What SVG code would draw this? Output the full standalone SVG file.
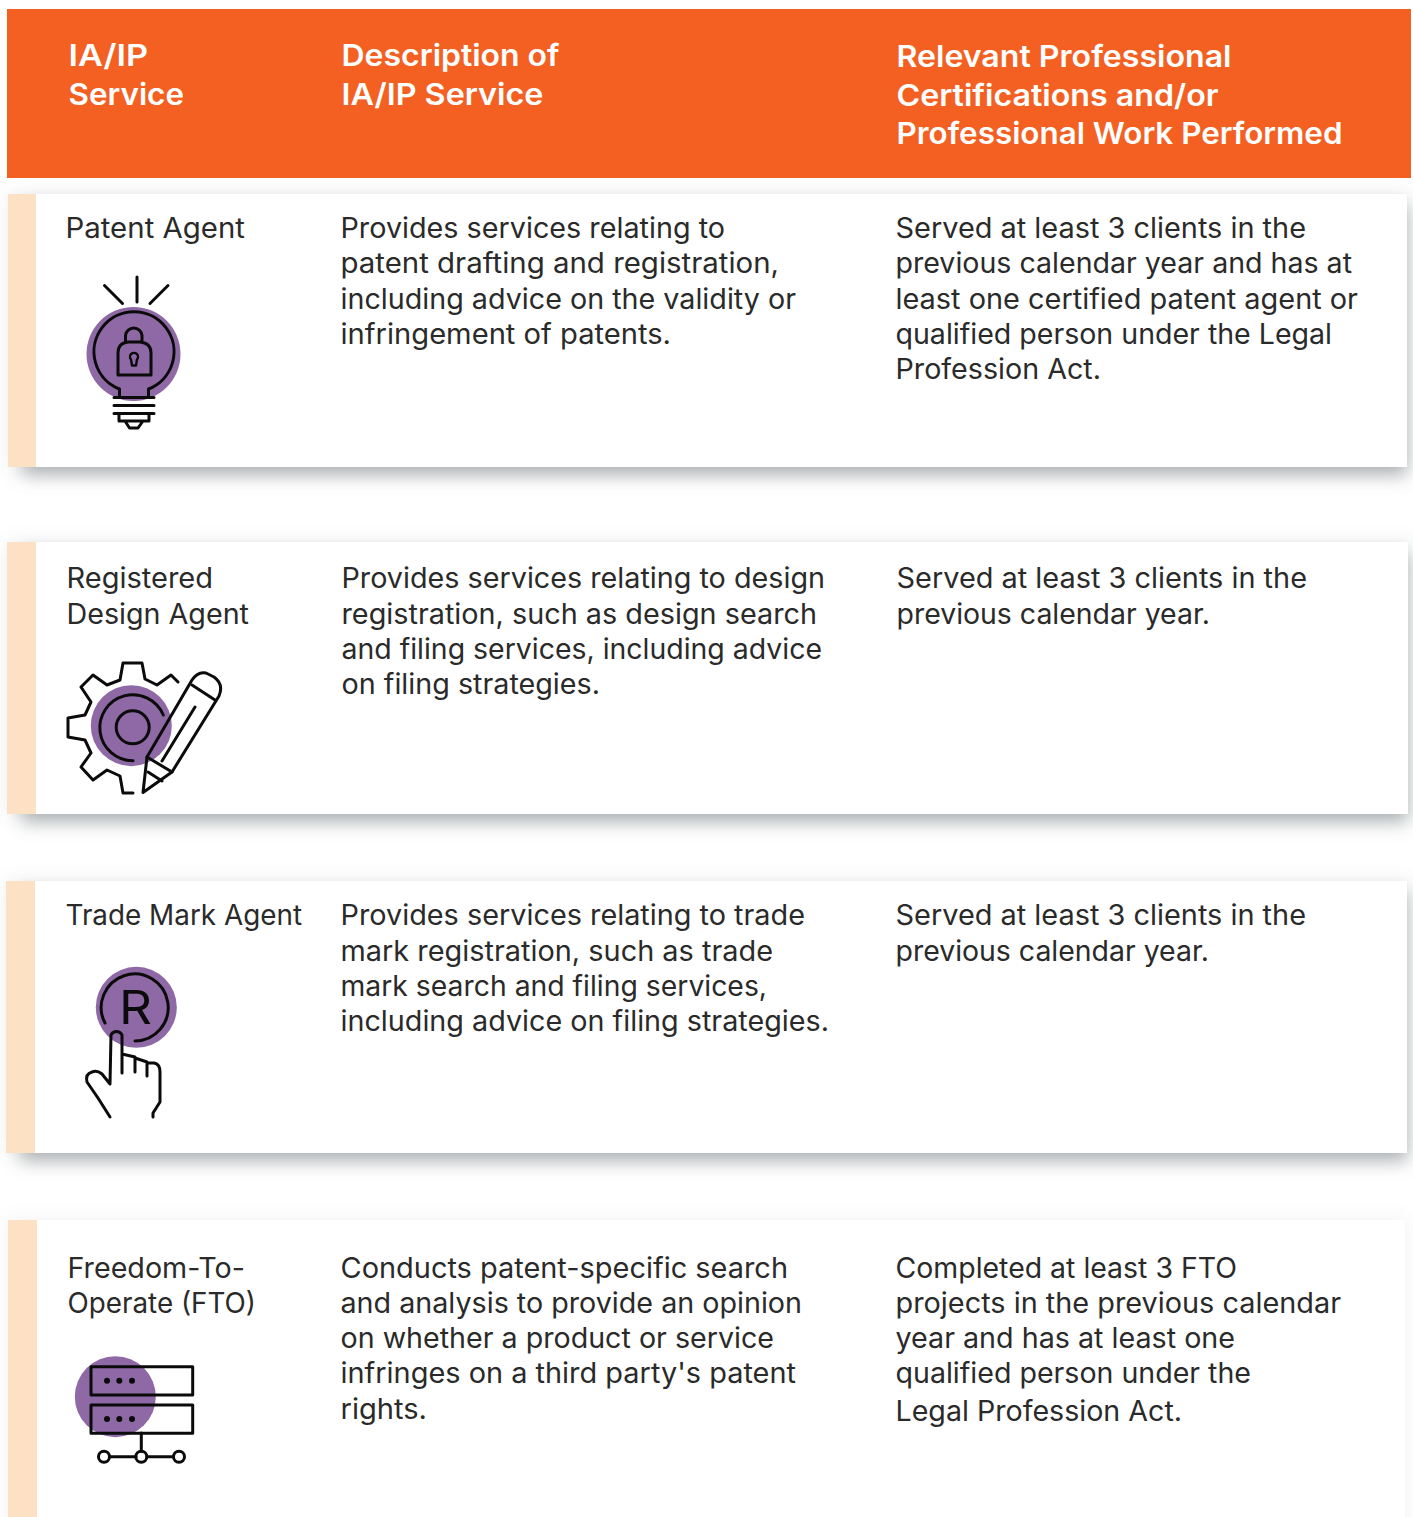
<svg xmlns="http://www.w3.org/2000/svg" width="1413" height="1517" viewBox="0 0 1413 1517">
<style>
text{font-family:Inter,"Liberation Sans",sans-serif;font-size:28px;fill:#2a2a2a;letter-spacing:0}
.h{font-size:30px;font-weight:600;fill:#fff}
.i{fill:none;stroke:#0b0b0b;stroke-width:3;stroke-linecap:round;stroke-linejoin:round}
.t{stroke-width:2.4}
.p{fill:#8f69a5}
.pe{fill:#fde1c4}
.s{fill:#6e747a;fill-opacity:.55;filter:url(#b)}
.f{fill:#6e747a;fill-opacity:.1;filter:url(#b)}
.c{fill:#fff}
.e{fill:#0b0b0b;font-size:46px}
.d{fill:#0b0b0b}
</style>
<defs><filter id="b" x="-5%" y="-30%" width="110%" height="160%"><feGaussianBlur stdDeviation="9"/></filter></defs>
<rect width="1413" height="1517" fill="#fff"/>
<g id="header">
<rect x="7" y="9" width="1404" height="169" fill="#f45f22"/>
<text class="h" x="68.500" y="66" textLength="79.500" lengthAdjust="spacingAndGlyphs">IA/IP</text>
<text class="h" x="68.500" y="105" textLength="115.500" lengthAdjust="spacingAndGlyphs">Service</text>
<text class="h" x="341.500" y="66" textLength="218" lengthAdjust="spacingAndGlyphs">Description of</text>
<text class="h" x="341.500" y="105" textLength="202" lengthAdjust="spacingAndGlyphs">IA/IP Service</text>
<text class="h" x="896.500" y="67" textLength="335" lengthAdjust="spacingAndGlyphs">Relevant Professional</text>
<text class="h" x="896.500" y="106" textLength="322" lengthAdjust="spacingAndGlyphs">Certifications and/or</text>
<text class="h" x="896.500" y="144" textLength="446" lengthAdjust="spacingAndGlyphs">Professional Work Performed</text>
</g>
<g id="row-patent-agent">
<rect class="f" x="8" y="194" width="1399" height="273"/>
<rect class="s" x="22" y="204" width="1385" height="271"/>
<rect class="c" x="8" y="194" width="1399" height="273"/>
<rect class="pe" x="8" y="194" width="28" height="273"/>
<text x="65.500" y="238" textLength="179.500" lengthAdjust="spacingAndGlyphs">Patent Agent</text>
<text x="340.500" y="238" textLength="384.500" lengthAdjust="spacingAndGlyphs">Provides services relating to</text>
<text x="340.500" y="273" textLength="438.500" lengthAdjust="spacingAndGlyphs">patent drafting and registration,</text>
<text x="340.500" y="309" textLength="455.500" lengthAdjust="spacingAndGlyphs">including advice on the validity or</text>
<text x="340.500" y="344" textLength="330.500" lengthAdjust="spacingAndGlyphs">infringement of patents.</text>
<text x="895.500" y="238" textLength="410.500" lengthAdjust="spacingAndGlyphs">Served at least 3 clients in the</text>
<text x="895.500" y="273" textLength="456.500" lengthAdjust="spacingAndGlyphs">previous calendar year and has at</text>
<text x="895.500" y="309" textLength="462.500" lengthAdjust="spacingAndGlyphs">least one certified patent agent or</text>
<text x="895.500" y="344" textLength="436.500" lengthAdjust="spacingAndGlyphs">qualified person under the Legal</text>
<text x="895.500" y="379" textLength="205.500" lengthAdjust="spacingAndGlyphs">Profession Act.</text>
<g id="icon-bulb">
<circle class="p" cx="133.500" cy="354" r="47"/>
<path class="i" d="M137 277V302M104.500 285.500L122.500 303.500M168 285.500L150 303.500"/>
<path class="i" d="M119.500 397V389A40 40 0 1 1 148.500 389V397M114 397.500H154M114 405.500H154M114 413.500H154M119 414V421H149V414M125 421L129.500 428H138L143 421"/>
<path class="i" d="M118 375V353Q118 343 128 342H140Q151 343 151 353V375ZM125.500 342V335.500A8.300 8.300 0 0 1 142 335.500V342"/>
<path class="i t" d="M131 359.500A4 4 0 1 1 137 359.500L136 365.500H132Z"/>
</g>
</g>
<g id="row-registered-design-agent">
<rect class="f" x="7" y="542" width="1401" height="272"/>
<rect class="s" x="21" y="552" width="1387" height="270"/>
<rect class="c" x="7" y="542" width="1401" height="272"/>
<rect class="pe" x="7" y="542" width="29" height="272"/>
<text x="66.500" y="588" textLength="146.500" lengthAdjust="spacingAndGlyphs">Registered</text>
<text x="66.500" y="624" textLength="182.500" lengthAdjust="spacingAndGlyphs">Design Agent</text>
<text x="341.500" y="588" textLength="483.500" lengthAdjust="spacingAndGlyphs">Provides services relating to design</text>
<text x="341.500" y="624" textLength="475.500" lengthAdjust="spacingAndGlyphs">registration, such as design search</text>
<text x="341.500" y="659" textLength="480.500" lengthAdjust="spacingAndGlyphs">and filing services, including advice</text>
<text x="341.500" y="694" textLength="258.500" lengthAdjust="spacingAndGlyphs">on filing strategies.</text>
<text x="896.500" y="588" textLength="410.500" lengthAdjust="spacingAndGlyphs">Served at least 3 clients in the</text>
<text x="896.500" y="624" textLength="313.500" lengthAdjust="spacingAndGlyphs">previous calendar year.</text>
<g id="icon-gear">
<circle class="p" cx="131.300" cy="725.700" r="40.500"/>
<path class="i" d="M178 682L171 675L157 685L145 679L142 663H123L120 680L107 685L93 675L81 687L91 702L85 715L68 718V737L85 740L91 753L81 767L93 780L107 770L120 776L123 793H133"/>
<circle class="i" cx="132.700" cy="727.300" r="16.500"/>
<path class="i" d="M133 760.700A33 33 0 1 1 163.300 715"/>
<path class="i" d="M143 792.500L147 757L192 680Q198 671 206 673L214 677Q224 684 219 696L172 772Z"/>
<path class="i" d="M192 685L215 700M147 757L172 772M195 707L162 761M148 772L162 781"/>
</g>
</g>
<g id="row-trade-mark-agent">
<rect class="f" x="6" y="881" width="1401" height="272"/>
<rect class="s" x="20" y="891" width="1387" height="270"/>
<rect class="c" x="6" y="881" width="1401" height="272"/>
<rect class="pe" x="6" y="881" width="29" height="272"/>
<text x="65.500" y="925" textLength="236.500" lengthAdjust="spacingAndGlyphs">Trade Mark Agent</text>
<text x="340.500" y="925" textLength="464.500" lengthAdjust="spacingAndGlyphs">Provides services relating to trade</text>
<text x="340.500" y="961" textLength="432.500" lengthAdjust="spacingAndGlyphs">mark registration, such as trade</text>
<text x="340.500" y="996" textLength="426.500" lengthAdjust="spacingAndGlyphs">mark search and filing services,</text>
<text x="340.500" y="1031" textLength="488.500" lengthAdjust="spacingAndGlyphs">including advice on filing strategies.</text>
<text x="895.500" y="925" textLength="410.500" lengthAdjust="spacingAndGlyphs">Served at least 3 clients in the</text>
<text x="895.500" y="961" textLength="313.500" lengthAdjust="spacingAndGlyphs">previous calendar year.</text>
<g id="icon-trademark">
<circle class="p" cx="136.300" cy="1007.300" r="40.500"/>
<path class="i" d="M105 1023A33.500 33.500 0 1 1 135 1041"/>
<text class="e" x="119" y="1024" style="font-size:47px" textLength="33" lengthAdjust="spacingAndGlyphs">R</text>
<path class="i" d="M110 1117L98 1098L87 1082Q85 1074 92 1072Q97 1070 102 1074L110 1084L111 1035A6 6 0 0 1 122 1035V1073M122 1054L135 1057V1072M135 1058L147 1062V1076M147 1063H154Q160 1064 160 1072V1102L153 1113V1117"/>
</g>
</g>
<g id="row-freedom-to-operate">
<rect class="f" x="8" y="1220" width="1397" height="320"/>
<rect class="c" x="8" y="1220" width="1397" height="297"/>
<rect class="pe" x="8" y="1220" width="29" height="297"/>
<text x="67.500" y="1278" textLength="177.500" lengthAdjust="spacingAndGlyphs">Freedom-To-</text>
<text x="67.500" y="1313" textLength="188.500" lengthAdjust="spacingAndGlyphs">Operate (FTO)</text>
<text x="340.500" y="1278" textLength="447.500" lengthAdjust="spacingAndGlyphs">Conducts patent-specific search</text>
<text x="340.500" y="1313" textLength="461.500" lengthAdjust="spacingAndGlyphs">and analysis to provide an opinion</text>
<text x="340.500" y="1348" textLength="433.500" lengthAdjust="spacingAndGlyphs">on whether a product or service</text>
<text x="340.500" y="1383" textLength="455.500" lengthAdjust="spacingAndGlyphs">infringes on a third party's patent</text>
<text x="340.500" y="1419" textLength="86.500" lengthAdjust="spacingAndGlyphs">rights.</text>
<text x="895.500" y="1278" textLength="341.500" lengthAdjust="spacingAndGlyphs">Completed at least 3 FTO</text>
<text x="895.500" y="1313" textLength="445.500" lengthAdjust="spacingAndGlyphs">projects in the previous calendar</text>
<text x="895.500" y="1348" textLength="339.500" lengthAdjust="spacingAndGlyphs">year and has at least one</text>
<text x="895.500" y="1383" textLength="355.500" lengthAdjust="spacingAndGlyphs">qualified person under the</text>
<text x="895.500" y="1421" textLength="286.500" lengthAdjust="spacingAndGlyphs">Legal Profession Act.</text>
<g id="icon-server">
<circle class="p" cx="115.300" cy="1396.700" r="40.500"/>
<rect class="i" x="91" y="1366.700" width="101.700" height="28.300"/>
<rect class="i" x="91" y="1405" width="101.700" height="28.300"/>
<path class="i" d="M141.300 1433V1451M109.500 1456.700H136M147 1456.700H173.500"/>
<circle class="i" cx="104" cy="1456.700" r="5.500"/>
<circle class="i" cx="141.300" cy="1456.700" r="5.500"/>
<circle class="i" cx="179" cy="1456.700" r="5.500"/>
<g class="d"><circle cx="107" cy="1380.700" r="3"/><circle cx="119.300" cy="1380.700" r="3"/><circle cx="132" cy="1380.700" r="3"/><circle cx="107" cy="1419" r="3"/><circle cx="119.300" cy="1419" r="3"/><circle cx="132" cy="1419" r="3"/></g>
</g>
</g>
</svg>
